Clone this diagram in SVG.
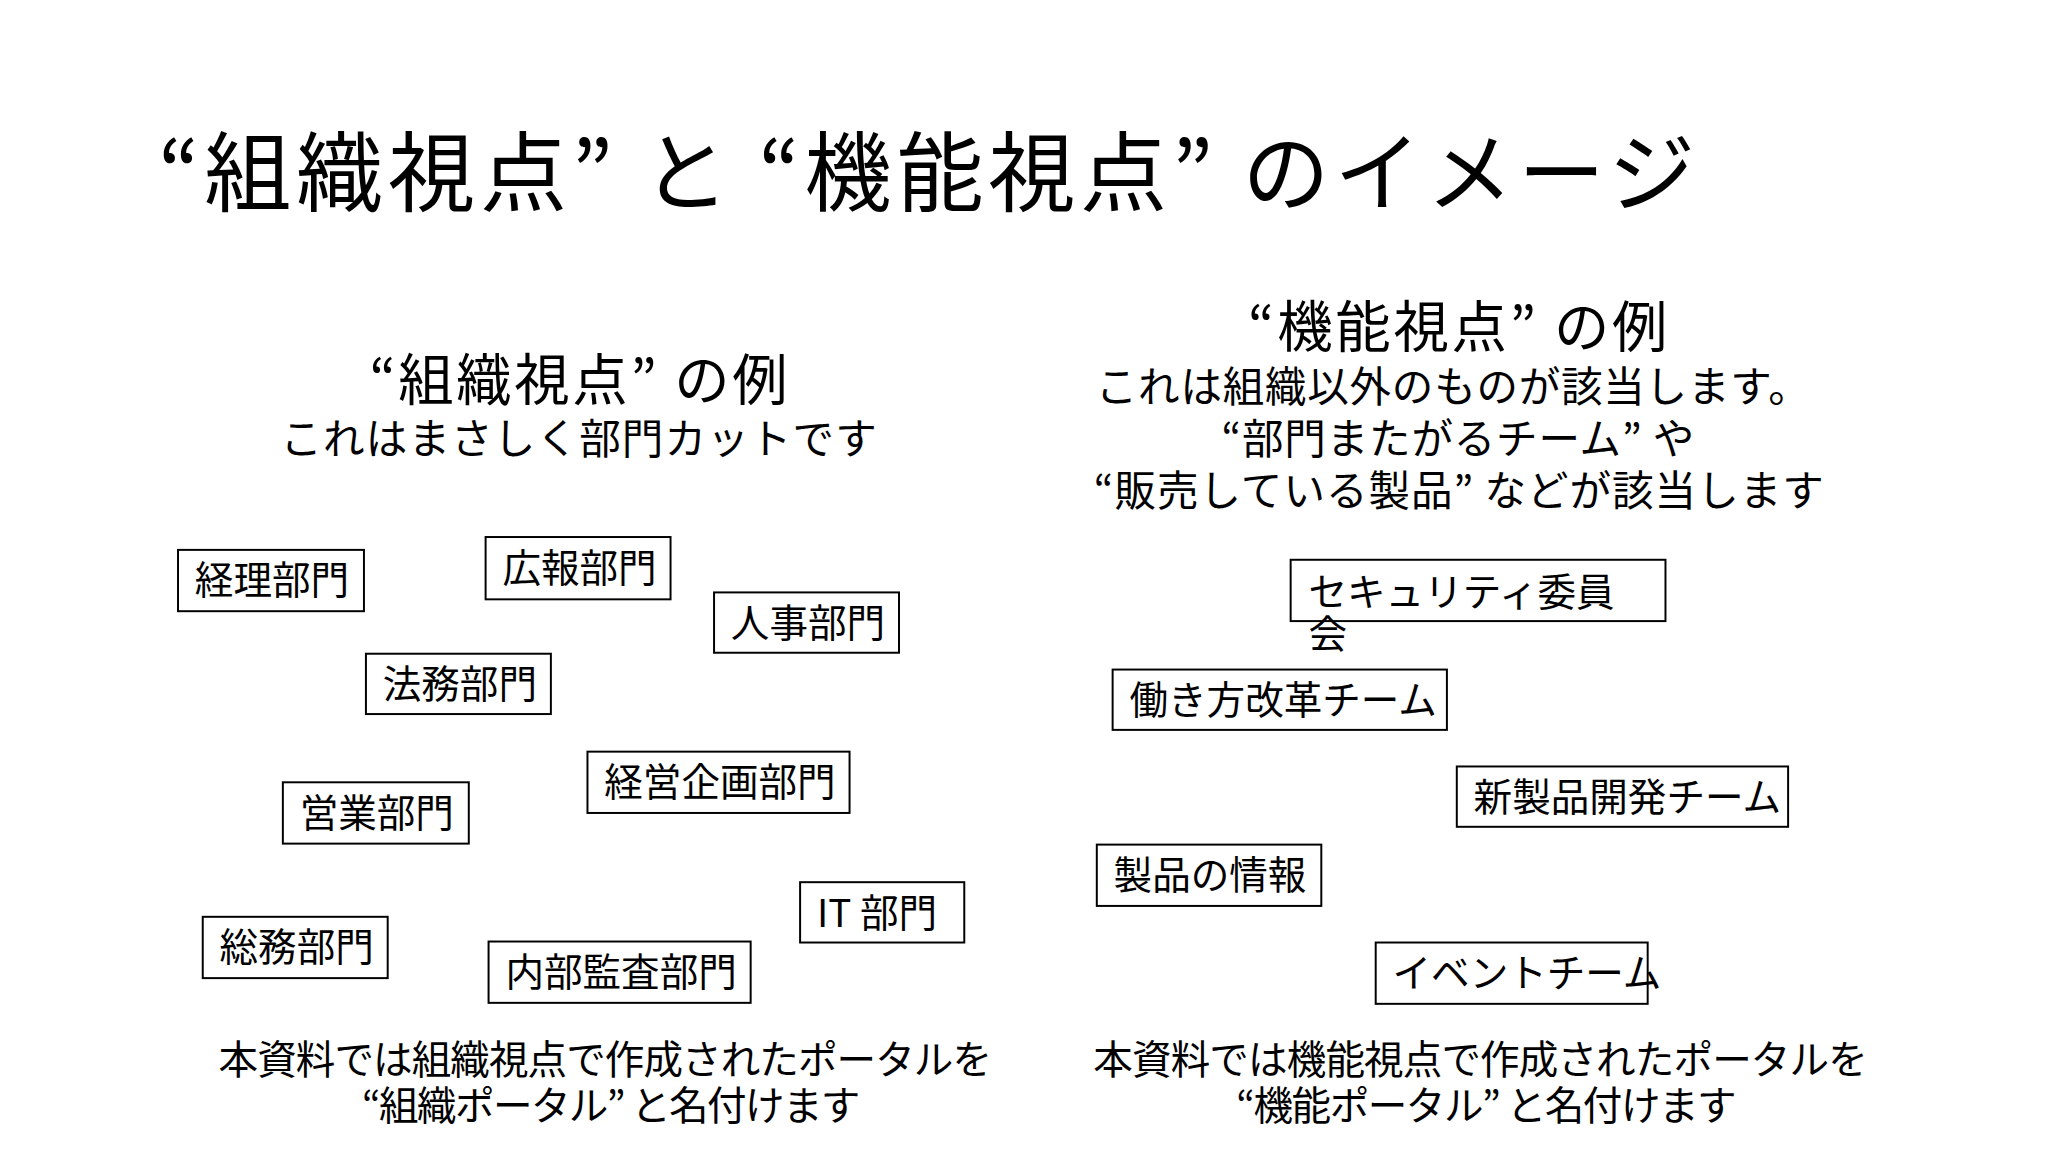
<svg xmlns="http://www.w3.org/2000/svg" width="2048" height="1152" viewBox="0 0 2048 1152">
<style>
text{font-family:"Noto Sans CJK JP","Liberation Sans",sans-serif;fill:#000}
.t{font-size:88px}
.h{font-size:56px;text-anchor:middle}
.s{font-size:42px;text-anchor:middle}
.n{font-size:39px}
.b{font-size:40px;text-anchor:middle}
rect{fill:#fff;stroke:#000;stroke-width:2}
</style>
<rect x="0" y="0" width="2048" height="1152" style="stroke:none"/>
<g transform="scale(0.989)">
<text class="t" x="160" y="207" textLength="1554" lengthAdjust="spacing">“組織視点” と “機能視点” のイメージ</text>
<text class="h" x="585" y="404" textLength="423" lengthAdjust="spacing">“組織視点” の例</text>
<text class="s" x="585" y="459" textLength="603" lengthAdjust="spacing">これはまさしく部門カットです</text>
<text class="h" x="1474" y="351" textLength="424" lengthAdjust="spacing">“機能視点” の例</text>
<text class="s" x="1469" y="406" textLength="722" lengthAdjust="spacing">これは組織以外のものが該当します。</text>
<text class="s" x="1474" y="459" textLength="478" lengthAdjust="spacing">“部門またがるチーム” や</text>
<text class="s" x="1475" y="512" textLength="738" lengthAdjust="spacing">“販売している製品” などが該当します</text>
<g id="n1"><rect x="180" y="556" width="188" height="62"/><text class="n" x="197" y="601">経理部門</text></g>
<g id="n2"><rect x="491" y="543" width="187" height="63"/><text class="n" x="508" y="588">広報部門</text></g>
<g id="n3"><rect x="722" y="599" width="187" height="61"/><text class="n" x="739" y="644">人事部門</text></g>
<g id="n4"><rect x="370" y="661" width="187" height="61"/><text class="n" x="387" y="706">法務部門</text></g>
<g id="n5"><rect x="286" y="791" width="188" height="62"/><text class="n" x="303" y="836">営業部門</text></g>
<g id="n6"><rect x="594" y="760" width="265" height="62"/><text class="n" x="611" y="805">経営企画部門</text></g>
<g id="n7"><rect x="809" y="892" width="166" height="61"/><text class="n" x="826" y="937">IT 部門</text></g>
<g id="n8"><rect x="205" y="927" width="187" height="62"/><text class="n" x="222" y="972">総務部門</text></g>
<g id="n9"><rect x="494" y="952" width="265" height="62"/><text class="n" x="511" y="997">内部監査部門</text></g>
<g id="r1"><rect x="1305" y="566" width="379" height="62"/><text class="n" x="1323" y="613">セキュリティ委員</text><text class="n" x="1323" y="655">会</text></g>
<g id="r2"><rect x="1125" y="677" width="338" height="61"/><text class="n" x="1142" y="722">働き方改革チーム</text></g>
<g id="r3"><rect x="1473" y="775" width="335" height="61"/><text class="n" x="1490" y="820">新製品開発チーム</text></g>
<g id="r4"><rect x="1109" y="854" width="227" height="62"/><text class="n" x="1126" y="899">製品の情報</text></g>
<g id="r5"><rect x="1391" y="953" width="275" height="62"/><text class="n" x="1408" y="998">イベントチーム</text></g>
<g id="connectors"></g>
<text class="b" x="612" y="1086" textLength="782" lengthAdjust="spacing">本資料では組織視点で作成されたポータルを</text>
<text class="b" x="618" y="1132" textLength="504" lengthAdjust="spacing">“組織ポータル” と名付けます</text>
<text class="b" x="1497" y="1086" textLength="783" lengthAdjust="spacing">本資料では機能視点で作成されたポータルを</text>
<text class="b" x="1503" y="1132" textLength="506" lengthAdjust="spacing">“機能ポータル” と名付けます</text>
</g>
</svg>
